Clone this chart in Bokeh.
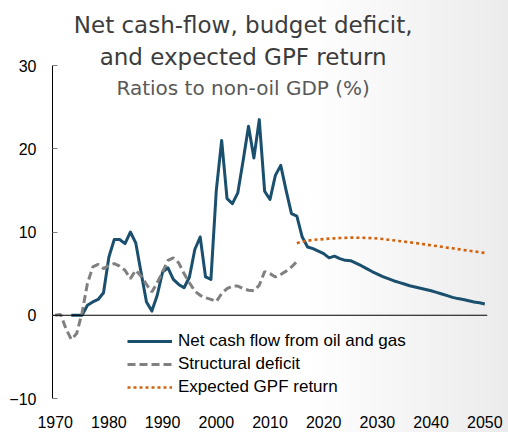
from bokeh.plotting import figure
from bokeh.models import FixedTicker, Span, Label, Legend, LegendItem
from bokeh.embed import file_html
from bokeh.resources import INLINE

# Net cash flow from oil and gas, % of non-oil GDP (actual + projection)
cash_years = list(range(1973, 2051))
net_cash_flow = [
    0.0, 0.0, 0.0, 1.2, 1.6, 1.9, 2.7, 7.0, 9.1, 9.1,      # 1973-1982
    8.6, 10.0, 8.7, 5.1, 1.6, 0.5, 2.4, 5.2, 5.7, 4.3,     # 1983-1992
    3.7, 3.3, 4.6, 7.9, 9.4, 4.6, 4.3, 15.0, 21.0, 14.0,   # 1993-2002
    13.4, 14.7, 18.6, 22.7, 18.9, 23.5, 14.9, 13.9, 16.8, 18.0,  # 2003-2012
    15.0, 12.2, 11.9, 9.4, 8.2, 8.0, 7.7, 7.4, 6.9, 7.1,   # 2013-2022
    6.8, 6.6, 6.55, 6.25, 5.95, 5.6, 5.25, 4.95, 4.65, 4.4,  # 2023-2032
    4.15, 3.95, 3.75, 3.55, 3.4, 3.25, 3.1, 2.95, 2.75, 2.55,  # 2033-2042
    2.35, 2.15, 2.0, 1.9, 1.75, 1.6, 1.5, 1.35,            # 2043-2050
]

# Structural (non-oil) budget deficit
deficit_years = list(range(1970, 2016))
structural_deficit = [
    0.0, 0.1, -1.6, -2.9, -2.2, 0.3, 3.8, 5.8, 6.1, 5.6,   # 1970-1979
    6.0, 6.2, 5.9, 5.4, 4.4, 5.4, 4.7, 3.7, 2.8, 3.9,      # 1980-1989
    5.2, 6.6, 6.9, 6.3, 5.0, 3.9, 2.9, 2.4, 2.1, 1.9,      # 1990-1999
    1.65, 2.6, 3.2, 3.5, 3.5, 3.2, 3.0, 2.95, 3.6, 5.25,   # 2000-2009
    5.0, 4.6, 4.9, 5.3, 5.8, 6.45,                         # 2010-2015
]

# Expected return of the Government Pension Fund
gpf_years = list(range(2015, 2051))
gpf_return = [
    8.65, 8.85, 8.95, 9.05, 9.1, 9.15, 9.2, 9.24, 9.28, 9.3,   # 2015-2024
    9.32, 9.32, 9.31, 9.29, 9.26, 9.22, 9.16, 9.08, 9.0, 8.92,  # 2025-2034
    8.84, 8.76, 8.68, 8.6, 8.5, 8.4, 8.32, 8.22, 8.12, 8.04,    # 2035-2044
    7.94, 7.84, 7.76, 7.66, 7.58, 7.49,                          # 2045-2050
]

x_ticks = [1970, 1980, 1990, 2000, 2010, 2020, 2030, 2040, 2050]
y_ticks = [-10, 0, 10, 20, 30]

title_lines = ["Net cash-flow, budget deficit,", "and expected GPF return"]
subtitle = "Ratios to non-oil GDP (%)"

BLUE = "#1b4f6e"
GREY = "#808080"
ORANGE = "#d2620e"
TICK_FONT = "Liberation Sans"

# The frame runs to the top of the canvas so the title block sits inside it;
# the y axis itself is bounded to -10..30.
p = figure(
    width=508, height=432,
    x_range=(1969.5, 2050.5), y_range=(-10, 37.81),
    output_backend="svg", toolbar_location=None,
    min_border_left=52, min_border_right=21,
    min_border_top=0, min_border_bottom=34,
)
p.border_fill_color = None
p.background_fill_color = None
p.outline_line_color = None
p.styles = {"background": "linear-gradient(to right, #ffffff 0%, #ffffff 60%, #ebebeb 100%)"}
p.xgrid.visible = False
p.ygrid.visible = False

# y axis: ticks point into the plot
yax = p.yaxis[0]
yax.ticker = FixedTicker(ticks=y_ticks)
yax.bounds = (-10, 30)
yax.axis_line_color = "black"
yax.axis_line_width = 1
yax.major_tick_in = 5
yax.major_tick_out = 0
yax.major_tick_line_color = "#7f7f7f"
yax.minor_tick_line_color = None
yax.major_label_standoff = 16
yax.major_label_text_font = TICK_FONT
yax.major_label_text_font_size = "16px"
yax.major_label_text_color = "black"

# x axis: labels only, the zero line carries the axis
xax = p.xaxis[0]
xax.ticker = FixedTicker(ticks=x_ticks)
xax.axis_line_color = None
xax.major_tick_line_color = None
xax.minor_tick_line_color = None
xax.major_label_standoff = 11
xax.major_label_text_font = TICK_FONT
xax.major_label_text_font_size = "16px"
xax.major_label_text_color = "black"

p.add_layout(Span(location=0, dimension="width", line_color="black", line_width=1.2))

r_cash = p.line(cash_years, net_cash_flow, line_color=BLUE, line_width=3, line_join="round")
r_def = p.line(deficit_years, structural_deficit, line_color=GREY, line_width=3,
               line_dash="8 4")
r_gpf = p.line(gpf_years, gpf_return, line_color=ORANGE, line_width=2.6,
               line_dash="3 3")

legend = Legend(
    items=[
        LegendItem(label="Net cash flow from oil and gas", renderers=[r_cash]),
        LegendItem(label="Structural deficit", renderers=[r_def]),
        LegendItem(label="Expected GPF return", renderers=[r_gpf]),
    ],
    location=(75, 1),
    orientation="vertical",
    glyph_width=45, glyph_height=20,
    label_height=20, label_standoff=6, spacing=3,
    padding=0, margin=0,
    border_line_color=None, background_fill_alpha=0,
    label_text_font=TICK_FONT, label_text_font_size="17px",
    label_text_color="black",
)
p.add_layout(legend)

# Title block, centred over the chart
title_x = 2005.0
p.add_layout(Label(x=title_x, y=34.85, text=title_lines[0], text_align="center",
                   text_baseline="alphabetic", text_font="DejaVu Sans",
                   text_font_size="23px", text_color="#3c3c3c"))
p.add_layout(Label(x=title_x, y=31.0, text=title_lines[1], text_align="center",
                   text_baseline="alphabetic", text_font="DejaVu Sans",
                   text_font_size="23px", text_color="#3c3c3c"))
p.add_layout(Label(x=title_x, y=27.25, text=subtitle, text_align="center",
                   text_baseline="alphabetic", text_font="DejaVu Sans",
                   text_font_size="20px", text_color="#595959"))

open("out.html", "w").write(file_html(p, INLINE))
